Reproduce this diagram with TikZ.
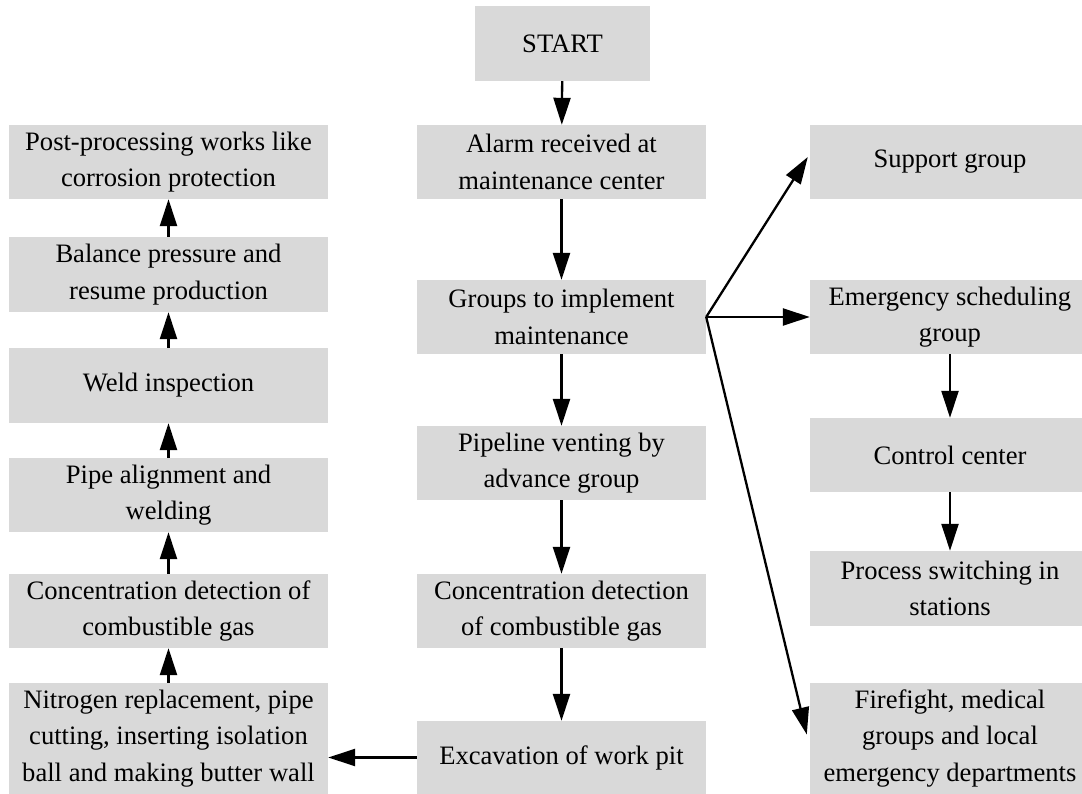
\documentclass[tikz,border=0pt]{standalone}
\usepackage{fontspec}
\setmainfont{Liberation Serif}
\usetikzlibrary{arrows.meta}

\tikzset{
  box/.style={fill=boxgray, draw=none, inner sep=0pt, align=center,
    font={\fontsize{26.6pt}{36.7pt}\selectfont}},
  midcol/.style={box, minimum width=289pt, minimum height=74pt},
  leftcol/.style={box, minimum width=319pt, minimum height=74pt},
  rightcol/.style={box, minimum width=280pt, minimum height=74pt},
  flow/.style={line width=2.3pt, -{Triangle[length=27pt,width=17pt]}}
}
\definecolor{boxgray}{RGB}{217,217,217}

\begin{document}
\begin{tikzpicture}[x=1pt, y=-1pt]
  \clip (0,0) rectangle (1082,794);
  \fill[white] (0,0) rectangle (1082,794);

  % middle column: main procedure
  \node[box, minimum width=175pt, minimum height=75pt] (start) at (562.5,43.5) {START};
  \node[midcol] (alarm) at (561.5,162) {Alarm received at\\maintenance center};
  \node[midcol] (grp) at (561.5,317) {Groups to implement\\maintenance};
  \node[midcol] (vent) at (561.5,463) {Pipeline venting by\\advance group};
  \node[midcol] (gas1) at (561.5,611) {Concentration detection\\of combustible gas};
  \node[midcol, minimum height=73pt] (pit) at (561.5,757.5) {Excavation of work pit};

  % left column: repair steps, bottom to top
  \node[leftcol] (post) at (168.5,162) {Post-processing works like\\corrosion protection};
  \node[leftcol, minimum height=75pt] (bal) at (168.5,274.5) {Balance pressure and\\resume production};
  \node[leftcol, minimum height=75pt] (weld) at (168.5,385.5) {Weld inspection};
  \node[leftcol] (align) at (168.5,495) {Pipe alignment and\\welding};
  \node[leftcol] (gas2) at (168.5,611) {Concentration detection of\\combustible gas};
  \node[leftcol, minimum height=111pt] (nit) at (168.5,738.5) {Nitrogen replacement, pipe\\cutting, inserting isolation\\ball and making butter wall};

  % right column: supporting groups
  \node[rightcol] (sup) at (950,162) {Support group};
  \node[rightcol] (emg) at (950,317) {Emergency scheduling\\group};
  \node[rightcol] (ctl) at (950,455) {Control center};
  \node[rightcol, minimum height=75pt] (proc) at (950,588.5) {Process switching in\\stations};
  \node[rightcol, minimum height=111pt] (fire) at (950,738.5) {Firefight, medical\\groups and local\\emergency departments};

  % main flow
  \draw[flow] (start) -- (alarm);
  \draw[flow] (alarm) -- (grp);
  \draw[flow] (grp) -- (vent);
  \draw[flow] (vent) -- (gas1);
  \draw[flow] (gas1) -- (pit);
  \draw[flow] (pit.west) -- (pit.west -| nit.east);

  % repair flow upwards
  \draw[flow] (nit) -- (gas2);
  \draw[flow] (gas2) -- (align);
  \draw[flow] (align) -- (weld);
  \draw[flow] (weld) -- (bal);
  \draw[flow] (bal) -- (post);

  % dispatch of groups
  \draw[flow] (grp.east) -- ([xshift=-2pt,yshift=5pt]sup.west);
  \draw[flow] (grp.east) -- (emg.west);
  \draw[flow] (grp.east) -- ([xshift=-3pt,yshift=4pt]fire.west);
  \draw[flow] (emg) -- (ctl);
  \draw[flow] (ctl) -- (proc);
\end{tikzpicture}
\end{document}
